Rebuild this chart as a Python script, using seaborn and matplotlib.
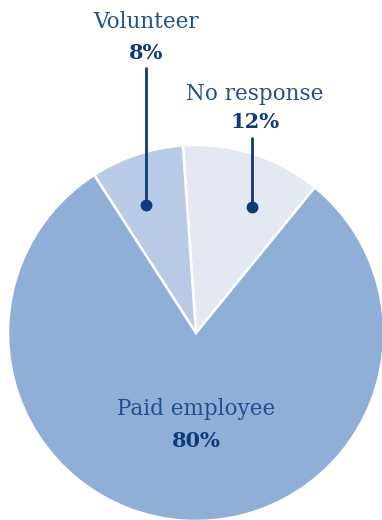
import matplotlib
matplotlib.use("Agg")
import matplotlib.pyplot as plt
import seaborn as sns

# Employment status of respondents (percent)
categories = ["No response", "Volunteer", "Paid employee"]
shares = [12, 8, 80]
colors = ["#e3e8f3", "#b8cae5", "#8fafd7"]

sns.set_theme(style="white")
plt.rcParams["font.family"] = ["DejaVu Serif", "DejaVu Sans"]

W, H = 382, 520
fig = plt.figure(figsize=(W / 100, H / 100), dpi=100)
ax = fig.add_axes([0, 0, 1, 1])

cx, cy, r = 196, H - 333, 188
ax.pie(shares, colors=colors, startangle=50.8, counterclock=True,
       center=(cx, cy), radius=r, frame=True,
       wedgeprops=dict(edgecolor="white", linewidth=1.8))

ax.set_xlim(0, W)
ax.set_ylim(0, H)
ax.set_aspect("equal", adjustable="box")
ax.axis("off")

name_color = "#21508f"
pct_color = "#0c3a7a"

def label(x, y_name, y_pct, name, pct, size=15.5, psize=15):
    ax.text(x, H - y_name, name, ha="center", va="baseline",
            fontsize=size, color=name_color)
    ax.text(x, H - y_pct, f"{pct}%", ha="center", va="baseline",
            fontsize=psize, fontweight="bold", color=pct_color)

def leader(x, y0, y1):
    ax.plot([x, x], [H - y0, H - y1], color=pct_color, lw=2.0,
            solid_capstyle="butt")
    ax.plot([x], [H - y1], "o", color=pct_color, markersize=7.5)

label(146, 28, 59, categories[1], shares[1])
leader(146, 67, 205)

label(255, 100, 128, categories[0], shares[0])
leader(252, 137, 207)

label(196, 415, 447, categories[2], shares[2])

fig.savefig("out.png", dpi=100)
